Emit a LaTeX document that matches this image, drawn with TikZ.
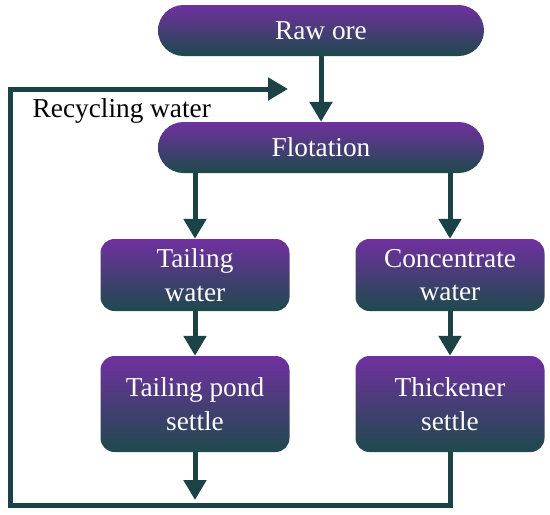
\documentclass[tikz,border=0pt]{standalone}
\usepackage{fontspec}
\setmainfont{Liberation Serif}
\usetikzlibrary{arrows.meta}
\definecolor{boxtop}{HTML}{7030A0}
\definecolor{boxbot}{HTML}{1E4A4C}
\definecolor{flow}{HTML}{1B4245}
\begin{document}
\begin{tikzpicture}[x=1pt,y=-1pt,
  procbox/.style={draw=none, top color=boxtop, bottom color=boxbot, text=white,
    font=\fontsize{27.3}{33.5}\selectfont, align=center, inner sep=0pt},
  pill/.style={procbox, rounded corners=25.5pt, minimum width=326pt, minimum height=51pt},
  smallbox/.style={procbox, rounded corners=14pt, minimum width=189pt},
  flowline/.style={draw=flow, line width=5pt},
  flowarrow/.style={flowline, -{Triangle[length=20pt,width=22pt]}}]
\useasboundingbox (0,0) rectangle (550,515);
\node[pill] (raw) at (321,30.5) {Raw ore};
\node[pill] (flot) at (321,147.5) {Flotation};
\node[smallbox, minimum height=72pt] (tw) at (195,275) {Tailing\\water};
\node[smallbox, minimum height=72pt] (cw) at (450,275) {Concentrate\\water};
\node[smallbox, minimum height=96pt] (tp) at (195,404) {Tailing pond\\settle};
\node[smallbox, minimum height=96pt] (th) at (450,404) {Thickener\\settle};
\node[font=\fontsize{27.3}{33.5}\selectfont, anchor=base west, inner sep=0pt] (rw) at (32.5,117) {Recycling water};
\coordinate (tpout) at (195,500);
\coordinate (c1) at (450,505);
\coordinate (c2) at (10.5,505);
\coordinate (c3) at (10.5,89);
\coordinate (rtip) at (288,89);
\draw[flowarrow] (raw.south) -- (flot.north);
\draw[flowarrow] (flot.south -| tw.north) -- (tw.north);
\draw[flowarrow] (flot.south -| cw.north) -- (cw.north);
\draw[flowarrow] (tw.south) -- (tp.north);
\draw[flowarrow] (cw.south) -- (th.north);
\draw[flowarrow] (tp.south) -- (tpout);
\draw[flowarrow] (th.south) -- (c1) -- (c2) -- (c3) -- (rtip);
\end{tikzpicture}
\end{document}
